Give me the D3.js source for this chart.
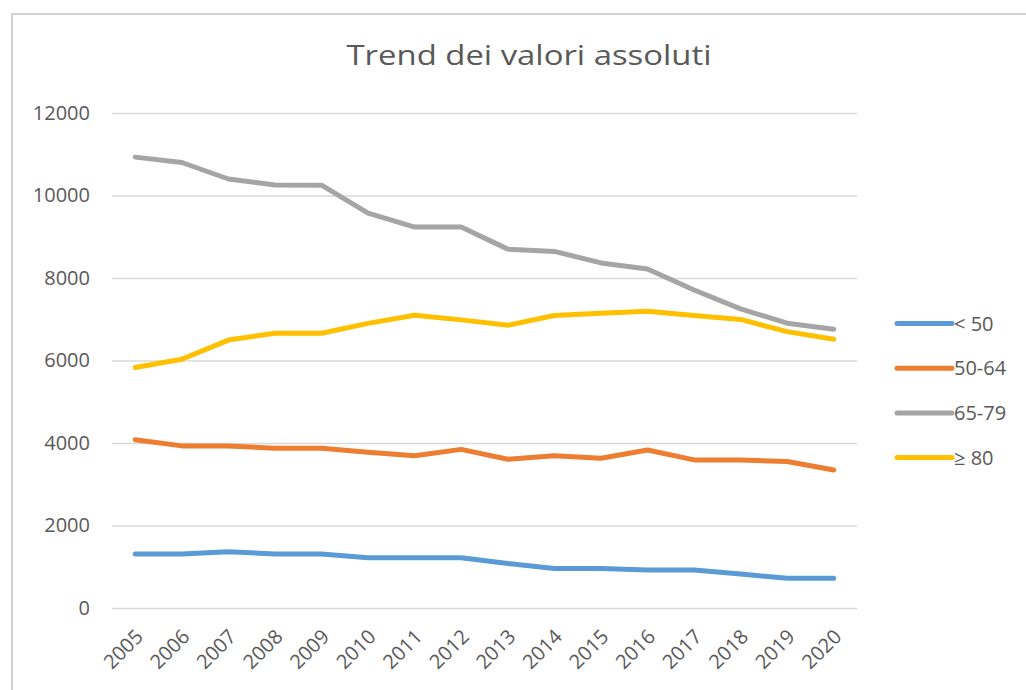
<!DOCTYPE html>
<html><head><meta charset="utf-8">
<script src="https://cdn.jsdelivr.net/npm/d3@7"></script>
<style>body{margin:0;background:#fff;} svg{display:block;}</style>
</head><body>
<script>
const years = ["2005","2006","2007","2008","2009","2010","2011","2012","2013","2014","2015","2016","2017","2018","2019","2020"];
const seriesNames = ["< 50","50-64","65-79","\u2265 80"];
const under50 = [1310,1310,1365,1310,1310,1220,1220,1220,1080,960,960,920,920,825,720,720];
const s50_64 = [4080,3930,3930,3875,3875,3775,3690,3845,3605,3690,3630,3830,3590,3590,3550,3345];
const s65_79 = [10930,10800,10400,10255,10250,9575,9235,9235,8700,8645,8365,8220,7710,7250,6905,6760];
const over80 = [5830,6030,6495,6660,6660,6900,7095,6985,6855,7090,7145,7195,7090,6995,6700,6515];
const yTicks = [0,2000,4000,6000,8000,10000,12000];
const colors = ["#5b9bd5","#ed7d31","#a5a5a5","#ffc000"];
const allSeries = [under50, s50_64, s65_79, over80];

const W = 1026, H = 690;
const svg = d3.select("body").append("svg").attr("width", W).attr("height", H);

// frame
svg.append("rect").attr("x",12).attr("y",14).attr("width",1030).attr("height",700)
  .attr("fill","#fff").attr("stroke","#c4c4c4").attr("stroke-width",1.5);

const x = d3.scaleBand().domain(years).range([112, 857]);
const y = d3.scaleLinear().domain([0, 12000]).range([608, 113]);

// title
svg.append("text").attr("x", 529).attr("y", 65).attr("text-anchor","middle")
  .attr("font-family","Open Sans").attr("font-size",28).attr("font-weight",400)
  .attr("textLength",365).attr("lengthAdjust","spacingAndGlyphs")
  .attr("fill","#595959").text("Trend dei valori assoluti");

// gridlines
const yAxis = d3.axisLeft(y).tickValues(yTicks).tickSize(-(857-112)).tickPadding(22).tickFormat(d3.format("d"));
const gy = svg.append("g").attr("transform","translate(112,0)").call(yAxis);
gy.select(".domain").remove();
gy.selectAll(".tick line").attr("stroke","#d9d9d9").attr("stroke-width",1.5);
gy.selectAll(".tick text").attr("font-family","Open Sans").attr("font-size",20)
  .attr("fill","#595959").attr("dy","0.3em");

// x axis labels
const xAxis = d3.axisBottom(x).tickSize(0).tickPadding(0);
const gx = svg.append("g").attr("transform","translate(0,608)").call(xAxis);
gx.select(".domain").remove();
gx.selectAll(".tick text").attr("font-family","Open Sans").attr("font-size",20)
  .attr("fill","#595959").attr("text-anchor","end").attr("dy",0)
  .attr("transform","translate(9,30) rotate(-45)");

// lines
const line = d3.line().x((d,i)=>x(years[i]) + x.bandwidth()/2).y(d=>y(d));
allSeries.forEach((s,k)=>{
  svg.append("path").datum(s).attr("d", line).attr("fill","none")
    .attr("stroke", colors[k]).attr("stroke-width",5).attr("stroke-linejoin","round").attr("stroke-linecap","round");
});

// legend
const leg = svg.append("g");
seriesNames.forEach((n,k)=>{
  const ly = 323.5 + k*44.7;
  leg.append("line").attr("x1",897).attr("x2",952).attr("y1",ly).attr("y2",ly)
    .attr("stroke",colors[k]).attr("stroke-width",5).attr("stroke-linecap","round");
  leg.append("text").attr("x",954).attr("y",ly).attr("dy","0.35em")
    .attr("font-family","Open Sans").attr("font-size",20).attr("fill","#595959").text(n);
});
</script>
</body></html>
